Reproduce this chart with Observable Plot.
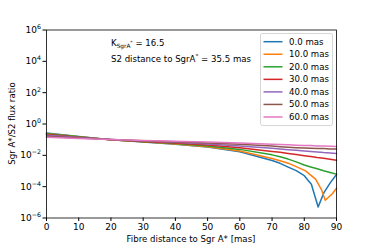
<!DOCTYPE html>
<html><head><meta charset="utf-8">
<script src="https://cdn.jsdelivr.net/npm/d3@7"></script>
<script src="https://cdn.jsdelivr.net/npm/@observablehq/plot@0.6"></script>
<style>
html,body{margin:0;padding:0;background:#fff;}
svg{font-family:"DejaVu Sans",sans-serif;}
</style>
</head><body>
<div id="chart"></div>
<script>
// Series labels (offset of S2 in mas) and colours
const seriesNames = ["0.0 mas","10.0 mas","20.0 mas","30.0 mas","40.0 mas","50.0 mas","60.0 mas"];
const seriesColors = ["#1f77b4","#ff7f0e","#2ca02c","#d62728","#9467bd","#8c564b","#e377c2"];

// Sample positions along the fibre distance (mas)
const xsCommon = [0,10,20,30,40,50,60,70,72.5,75,77.5,80,82,84,86,88,90];
const xs0  = [0,10,20,30,40,50,60,70,72.5,75,77.5,80,82.2,84.3,86.1,88.1,90];
const xs10 = [0,10,20,30,40,50,60,70,72.5,75,77.5,80.4,83.5,85.3,86.5,88.7,90];
// log10 flux ratio
const log0  = [-0.58,-0.80,-1.01,-1.15,-1.29,-1.47,-1.77,-2.33,-2.51,-2.75,-2.98,-3.30,-3.85,-5.30,-4.38,-3.74,-3.22];
const log10m= [-0.60,-0.81,-1.00,-1.14,-1.28,-1.45,-1.72,-2.20,-2.34,-2.50,-2.72,-2.99,-3.52,-4.17,-4.87,-4.45,-4.10];
const log20 = [-0.63,-0.82,-1.00,-1.13,-1.25,-1.40,-1.62,-1.97,-2.09,-2.24,-2.42,-2.62,-2.74,-2.86,-2.98,-3.09,-3.20];
const log30 = [-0.67,-0.84,-1.00,-1.11,-1.21,-1.34,-1.51,-1.75,-1.81,-1.88,-1.95,-2.02,-2.08,-2.14,-2.19,-2.25,-2.31];
const log40 = [-0.72,-0.86,-0.99,-1.09,-1.17,-1.28,-1.40,-1.55,-1.60,-1.64,-1.68,-1.72,-1.75,-1.78,-1.82,-1.85,-1.88];
const log50 = [-0.78,-0.89,-0.99,-1.07,-1.13,-1.21,-1.30,-1.41,-1.45,-1.48,-1.51,-1.53,-1.54,-1.56,-1.57,-1.59,-1.60];
const log60 = [-0.84,-0.92,-0.99,-1.05,-1.10,-1.15,-1.22,-1.29,-1.31,-1.33,-1.35,-1.37,-1.38,-1.40,-1.41,-1.42,-1.44];
const seriesLogs = [log0,log10m,log20,log30,log40,log50,log60];
const seriesXs = [xs0,xs10,xsCommon,xsCommon,xsCommon,xsCommon,xsCommon];

const yTicks = [1e-6,1e-4,1e-2,1e0,1e2,1e4,1e6];
const yTickExps = ["−6","−4","−2","0","2","4","6"];
const xTicks = [0,10,20,30,40,50,60,70,80,90];

const rows = [];
seriesLogs.forEach((arr, i) => arr.forEach((v, j) => rows.push({s: seriesNames[i], x: seriesXs[i][j], y: Math.pow(10, v)})));

const W = 374, H = 249, mL = 46, mR = 38, mT = 29.5, mB = 31.5;
const FS = 8.6, TFS = 9;

const chart = Plot.plot({
  width: W, height: H,
  marginLeft: mL, marginRight: mR, marginTop: mT, marginBottom: mB,
  style: {fontFamily: "DejaVu Sans, sans-serif", fontSize: FS + "px", background: "#fff", color: "#000"},
  x: {domain: [0, 90]},
  y: {type: "log", domain: [1e-6, 1e6]},
  color: {domain: seriesNames, range: seriesColors},
  marks: [
    Plot.line(rows, {x: "x", y: "y", z: "s", stroke: "s", strokeWidth: 1.5}),
    Plot.frame({stroke: "#000", strokeWidth: 0.8}),
    Plot.axisX({ticks: xTicks, tickSize: 3.5, tickPadding: 2.5, label: null, fontSize: TFS}),
    Plot.axisY({ticks: yTicks, tickSize: 3.5, tickPadding: 2, label: null, fontSize: TFS,
      tickFormat: d => "10|" + yTickExps[yTicks.findIndex(t => Math.abs(Math.log10(t) - Math.log10(d)) < 1e-6)]})
  ]
});
document.getElementById("chart").appendChild(chart);

const svg = d3.select(chart);
// rebuild y tick labels as 10 with a superscript exponent
svg.selectAll("text").each(function () {
  const t = this.textContent;
  if (t && t.startsWith("10|")) {
    const e = t.slice(3);
    const sel = d3.select(this);
    sel.text(null);
    sel.append("tspan").text("10");
    sel.append("tspan").attr("font-size", 6.3).attr("dy", -3.8).text(e);
  }
});

// axis labels
svg.append("text").attr("x", 191).attr("y", 242)
  .attr("text-anchor", "middle").attr("font-size", FS).attr("fill", "#000")
  .text("Fibre distance to Sgr A* [mas]");
svg.append("text").attr("transform", `translate(12,${mT + (H - mT - mB) / 2}) rotate(-90)`)
  .attr("text-anchor", "middle").attr("dy", "0.35em").attr("font-size", FS).attr("fill", "#000")
  .text("Sgr A*/S2 flux ratio");

// annotations
const t1 = svg.append("text").attr("x", 111).attr("y", 46).attr("text-anchor", "start").attr("font-size", FS).attr("fill", "#000");
t1.append("tspan").text("K");
t1.append("tspan").attr("font-size", 5.8).attr("dy", 1.8).text("SgrA");
t1.append("tspan").attr("font-size", 4.6).attr("dy", -3.5).text("*");
t1.append("tspan").attr("dy", 1.7).text(" = 16.5");
const t2 = svg.append("text").attr("x", 111).attr("y", 61.5).attr("text-anchor", "start").attr("font-size", FS).attr("fill", "#000");
t2.append("tspan").text("S2 distance to SgrA");
t2.append("tspan").attr("font-size", 5.8).attr("dy", -3.5).text("*");
t2.append("tspan").attr("dy", 3.5).text(" = 35.5 mas");

// legend
const lg = svg.append("g").attr("text-anchor", "start");
lg.append("rect").attr("x", 260.5).attr("y", 33.5).attr("width", 72).attr("height", 92)
  .attr("rx", 2).attr("fill", "#fff").attr("fill-opacity", 0.8).attr("stroke", "#ccc").attr("stroke-width", 0.8);
seriesNames.forEach((n, i) => {
  const y = 41.7 + i * 12.55;
  lg.append("line").attr("x1", 263.5).attr("x2", 282.5).attr("y1", y).attr("y2", y)
    .attr("stroke", seriesColors[i]).attr("stroke-width", 1.5);
  lg.append("text").attr("x", 289).attr("y", y).attr("dy", "0.35em").attr("text-anchor", "start")
    .attr("font-size", FS).attr("fill", "#000").text(n);
});
</script>
</body></html>
